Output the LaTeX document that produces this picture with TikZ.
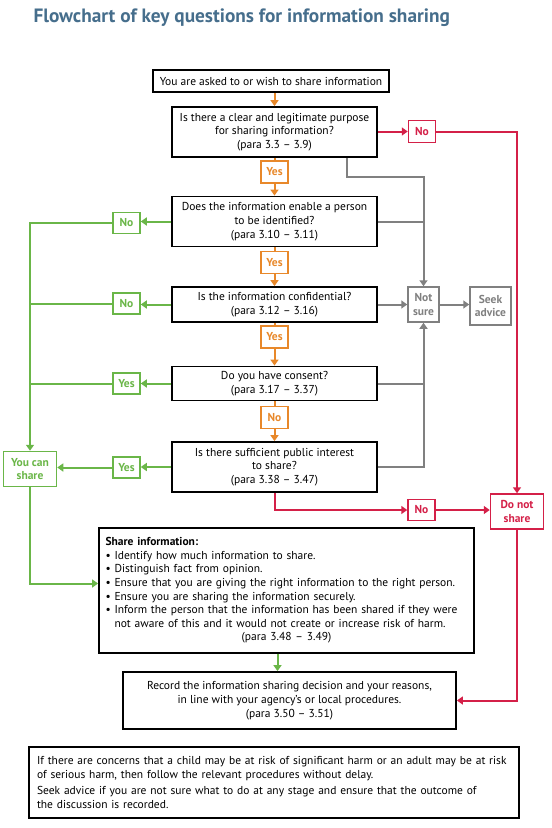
\documentclass[tikz,border=0pt]{standalone}
\usepackage{fontspec}
\setmainfont{PT Sans}
\usetikzlibrary{arrows.meta}
\definecolor{titleblue}{RGB}{70,110,140}
\definecolor{qorange}{RGB}{232,136,42}
\definecolor{qred}{RGB}{212,32,72}
\definecolor{qgreen}{RGB}{106,182,72}
\definecolor{qgray}{RGB}{128,128,128}
\begin{document}
\begin{tikzpicture}[x=1pt,y=-1pt,>={Triangle[width=8pt,length=6pt]},
	font=\fontsize{11.5}{13.8}\selectfont,
	qbox/.style={draw=black,line width=1.8pt,align=center,inner sep=0pt,minimum width=205pt},
	tag/.style={draw=#1,line width=1.5pt,text=#1,inner sep=0pt,align=center,
		font=\fontsize{11.5}{13.5}\selectfont\bfseries},
	link/.style={draw=#1,line width=2pt}]
	\useasboundingbox (0,0) rectangle (552,828);
	\node[anchor=base west,text=titleblue,font=\fontsize{19.3}{22}\selectfont\bfseries]
		(title) at (30,22) {Flowchart of key questions for information sharing};
	% question column
	\node[qbox,minimum width=236pt,minimum height=22pt] (start) at (271,81)
		{You are asked to or wish to share information};
	\node[qbox,minimum height=50pt] (q1) at (274.5,132)
		{Is there a clear and legitimate purpose\\for sharing information?\\(para 3.3 – 3.9)};
	\node[tag=qorange,minimum width=27pt,minimum height=22pt] (yes1) at (274.5,172) {Yes};
	\node[qbox,minimum height=50pt] (q2) at (274.5,221.5)
		{Does the information enable a person\\to be identified?\\(para 3.10 – 3.11)};
	\node[tag=qorange,minimum width=27pt,minimum height=22pt] (yes2) at (274.5,262.5) {Yes};
	\node[qbox,minimum height=35pt] (q3) at (274.5,304.5)
		{Is the information confidential?\\(para 3.12 – 3.16)};
	\node[tag=qorange,minimum width=27pt,minimum height=22pt] (yes3) at (274.5,337) {Yes};
	\node[qbox,minimum height=34pt] (q4) at (274.5,383.5)
		{Do you have consent?\\(para 3.17 – 3.37)};
	\node[tag=qorange,minimum width=27pt,minimum height=22pt] (no4) at (274.5,417.5) {No};
	\node[qbox,minimum height=50pt] (q5) at (274.5,467)
		{Is there sufficient public interest\\to share?\\(para 3.38 – 3.47)};
	% left side
	\node[tag=qgreen,minimum width=27pt,minimum height=21pt] (noG2) at (126.5,223) {No};
	\node[tag=qgreen,minimum width=27pt,minimum height=21pt] (noG3) at (126.5,303.5) {No};
	\node[tag=qgreen,minimum width=27pt,minimum height=21pt] (yesG4) at (126.5,383.5) {Yes};
	\node[tag=qgreen,minimum width=27pt,minimum height=21pt] (yesG5) at (126.5,467.5) {Yes};
	\node[tag=qgreen,minimum width=53pt,minimum height=35pt] (youcan) at (30,469) {You can\\share};
	% right side
	\node[tag=qred,minimum width=27pt,minimum height=22pt] (noR1) at (422,131.5) {No};
	\node[tag=qgray,minimum width=31pt,minimum height=35pt] (notsure) at (423.5,304.5) {Not\\sure};
	\node[tag=qgray,minimum width=41pt,minimum height=38pt] (seek) at (490.5,306) {Seek\\advice};
	\node[tag=qred,minimum width=27pt,minimum height=21pt] (noR2) at (421.5,510) {No};
	\node[tag=qred,minimum width=53pt,minimum height=35pt] (dontshare) at (517,511.5) {Do not\\share};
	% lower boxes
	\node[qbox,minimum width=375pt,minimum height=125pt,text width=362pt,align=left,
		font=\fontsize{11.5}{13.6}\selectfont] (share) at (286.5,590.5)
		{\textbf{Share information:}\\
		• Identify how much information to share.\\
		• Distinguish fact from opinion.\\
		• Ensure that you are giving the right information to the right person.\\
		• Ensure you are sharing the information securely.\\
		• Inform the person that the information has been shared if they were\\
		\hphantom{• }not aware of this and it would not create or increase risk of harm.\\
		\makebox[\linewidth]{(para 3.48 – 3.49)}};
	\node[qbox,minimum width=333pt,minimum height=57pt] (record) at (289.5,700.5)
		{Record the information sharing decision and your reasons,\\
		in line with your agency’s or local procedures.\\(para 3.50 – 3.51)};
	\node[qbox,minimum width=490pt,minimum height=71pt,text width=474pt,align=left] (note) at (274,782.5)
		{If there are concerns that a child may be at risk of significant harm or an adult may be at risk\\
		of serious harm, then follow the relevant procedures without delay.\\[3pt]
		Seek advice if you are not sure what to do at any stage and ensure that the outcome of\\
		the discussion is recorded.};
	% orange flow
	\draw[link=qorange,->] (start.south -| q1.north) -- (q1.north);
	\draw[link=qorange] (q1.south) -- (yes1.north);
	\draw[link=qorange,->] (yes1.south) -- (q2.north);
	\draw[link=qorange] (q2.south) -- (yes2.north);
	\draw[link=qorange,->] (yes2.south) -- (q3.north);
	\draw[link=qorange] (q3.south) -- (yes3.north);
	\draw[link=qorange,->] (yes3.south) -- (q4.north);
	\draw[link=qorange] (q4.south) -- (no4.north);
	\draw[link=qorange,->] (no4.south) -- (q5.north);
	% green flow
	\draw[link=qgreen,->] (q2.west) -- (q2.west -| noG2.east);
	\draw[link=qgreen,->] (noG2.west) -| (youcan.north);
	\draw[link=qgreen,->] (q3.west) -- (q3.west -| noG3.east);
	\draw[link=qgreen] (noG3.west) -- (noG3.west -| youcan.north);
	\draw[link=qgreen,->] (q4.west) -- (q4.west -| yesG4.east);
	\draw[link=qgreen] (yesG4.west) -- (yesG4.west -| youcan.north);
	\draw[link=qgreen,->] (q5.west) -- (q5.west -| yesG5.east);
	\draw[link=qgreen,->] (yesG5.west) -- (yesG5.west -| youcan.east);
	\draw[link=qgreen,->] (youcan.south) |- ([yshift=7pt]share.west);
	\draw[link=qgreen,->] ([xshift=-9pt]share.south) -- ([xshift=-9pt]share.south |- record.north);
	% red flow
	\draw[link=qred,->] (q1.east |- noR1.west) -- (noR1.west);
	\draw[link=qred,->] (noR1.east) -| (dontshare.north);
	\draw[link=qred,->] (q5.south) |- (noR2.west);
	\draw[link=qred,->] (noR2.east) -- (noR2.east -| dontshare.west);
	\draw[link=qred,->] (dontshare.south) |- (record.east);
	% grey flow
	\draw[link=qgray,->] ([xshift=-31pt]q1.south east) -- ++(0,19) -| (notsure.north);
	\draw[link=qgray] (q2.east) -- (q2.east -| notsure.north);
	\draw[link=qgray,->] (q3.east) -- (notsure.west);
	\draw[link=qgray,->] (notsure.east) -- (notsure.east -| seek.west);
	\draw[link=qgray] (q4.east) -- (q4.east -| notsure.south);
	\draw[link=qgray,->] (q5.east) -| (notsure.south);
\end{tikzpicture}
\end{document}
